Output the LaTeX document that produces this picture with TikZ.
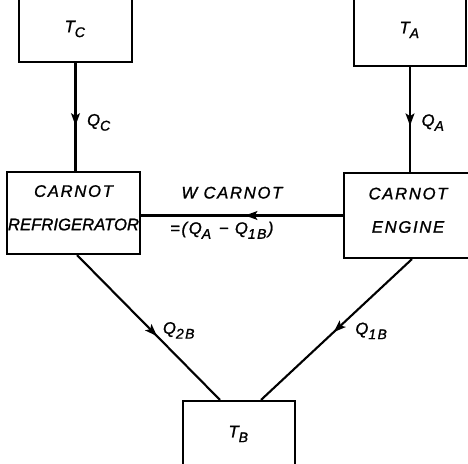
\documentclass[tikz,border=0pt]{standalone}
\usepackage{fontspec}
\setmainfont{Liberation Sans}[LetterSpace=10, FakeBold=1.2]
\newfontfamily\tightfont{Liberation Sans}[FakeBold=1.2]
\usetikzlibrary{arrows.meta,decorations.markings}

\newcommand{\lowsub}[1]{\raisebox{-0.55ex}{\fontsize{8}{8}\selectfont #1}\kern0.8pt\relax}

\begin{document}
\begin{tikzpicture}[
    every node/.style={font=\fontsize{9.5}{19}\selectfont\itshape, inner sep=2pt},
    box/.style={draw, line width=1.2pt, align=center, inner xsep=0.5pt},
    flow/.style={line width=1.2pt, postaction={decorate},
        decoration={markings, mark=at position #1 with {\arrow{Stealth[length=7pt,width=5pt,inset=1.5pt]}}}}
]

    \useasboundingbox (0,0) rectangle (9.36,9.28);

    % =====================================================
    % Reservoirs (cut off by the page edge)
    % =====================================================
    \node[box, minimum width=2.26cm, minimum height=1.32cm] (tc) at (1.51,8.70) {T\lowsub{C}};
    \node[box, minimum width=2.24cm, minimum height=1.44cm] (ta) at (8.20,8.68) {T\lowsub{A}};
    \node[box, minimum width=2.24cm, minimum height=1.32cm] (tb) at (4.78,0.60) {T\lowsub{B}};

    % =====================================================
    % Machines
    % =====================================================
    \node[box, minimum width=2.66cm, minimum height=1.64cm, text depth=6pt] (fridge) at (1.47,5.02)
        {CARNOT\\{\tightfont\itshape REFRIGERATOR}};
    \node[box, minimum width=2.56cm, minimum height=1.70cm, text depth=6pt] (engine) at (8.16,4.97)
        {CARNOT\\ENGINE};

    % =====================================================
    % Heat and work flows
    % =====================================================
    \draw[flow=0.58] (tc.south) -- (tc.south |- fridge.north)
        node[pos=0.55, right=4pt] {Q\lowsub{C}};
    \draw[flow=0.56] (ta.south) -- (ta.south |- engine.north)
        node[pos=0.53, right=4pt] {Q\lowsub{A}};

    \draw[flow=0.485] (engine.west) -- (engine.west -| fridge.east)
        node[pos=0.55, above=7pt] {W CARNOT}
        node[pos=0.60, below=1pt] {=(Q\lowsub{A} − Q\lowsub{1B})};

    \draw[flow=0.56] ([xshift=0.07cm]fridge.south) -- ([xshift=-0.38cm]tb.north)
        node[pos=0.52, right=4pt] {Q\lowsub{2B}};
    \draw[flow=0.52] ([xshift=0.08cm]engine.south) -- ([xshift=0.44cm]tb.north)
        node[pos=0.51, right=9pt] {Q\lowsub{1B}};

\end{tikzpicture}
\end{document}
